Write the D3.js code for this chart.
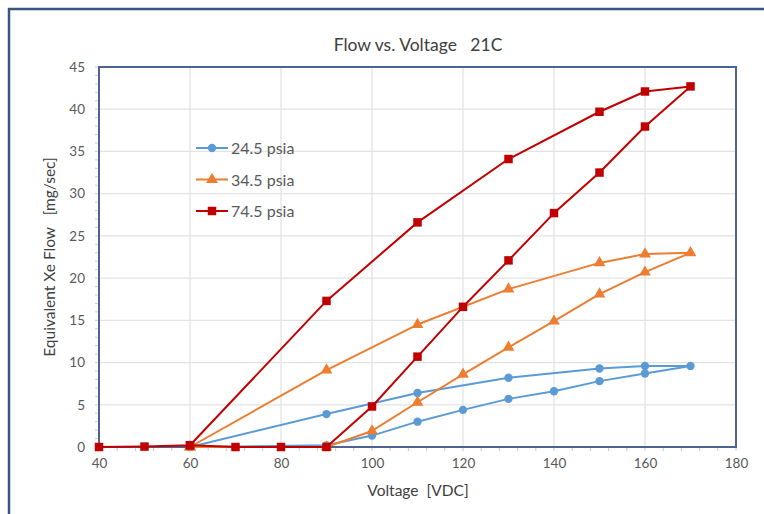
<!DOCTYPE html>
<html>
<head>
<meta charset="utf-8">
<script src="https://cdn.jsdelivr.net/npm/d3@7"></script>
<style>
  body { margin: 0; background: #fff; }
  text { font-family: Lato, "Open Sans", sans-serif; }
</style>
</head>
<body>
<div id="chart"></div>
<script>
const width = 764,
  height = 514;

// tick values
const xTicks = [40, 60, 80, 100, 120, 140, 160, 180];
const yTicks = [0, 5, 10, 15, 20, 25, 30, 35, 40, 45];

// each series follows the test order: up the voltage ramp, then back down
const seriesNames = ["24.5 psia", "34.5 psia", "74.5 psia"];
const voltage245 = [60, 90, 100, 110, 120, 130, 140, 150, 160, 170, 160, 150, 130, 110, 90, 60];
const flow245 = [0, 0.2, 1.35, 3.0, 4.4, 5.7, 6.6, 7.8, 8.7, 9.6, 9.6, 9.3, 8.2, 6.4, 3.9, 0];
const voltage345 = [60, 90, 100, 110, 120, 130, 140, 150, 160, 170, 160, 150, 130, 110, 90, 60];
const flow345 = [0, 0, 1.9, 5.3, 8.6, 11.8, 14.9, 18.1, 20.7, 23.0, 22.85, 21.8, 18.7, 14.5, 9.1, 0];
const voltage745 = [40, 50, 60, 70, 80, 90, 100, 110, 120, 130, 140, 150, 160, 170, 160, 150, 130, 110, 90, 60];
const flow745 = [0, 0.05, 0.2, 0, 0, 0, 4.8, 10.7, 16.6, 22.1, 27.7, 32.5, 37.95, 42.7, 42.1, 39.7, 34.1, 26.6, 17.3, 0.2];

const colors = ["#5B9BD5", "#ED7D31", "#C00000"];
const shapes = [d3.symbolCircle, d3.symbolTriangle, d3.symbolSquare];
const sizes = [55, 60, 72];

const series = [
  { name: seriesNames[0], pts: voltage245.map((v, i) => [v, flow245[i]]) },
  { name: seriesNames[1], pts: voltage345.map((v, i) => [v, flow345[i]]) },
  { name: seriesNames[2], pts: voltage745.map((v, i) => [v, flow745[i]]) }
];

const margin = { top: 67, right: 28, bottom: 67, left: 99 };
const innerW = width - margin.left - margin.right,
  innerH = height - margin.top - margin.bottom;

const svg = d3.select("#chart").append("svg").attr("width", width).attr("height", height);

// outer chart frame (runs off the right and bottom edges)
svg
  .append("rect")
  .attr("x", 9)
  .attr("y", 9)
  .attr("width", width + 20)
  .attr("height", height + 20)
  .attr("fill", "none")
  .attr("stroke", "#3B5483")
  .attr("stroke-width", 2.5);

const x = d3.scaleLinear().domain([40, 180]).range([0, innerW]);
const y = d3.scaleLinear().domain([0, 45]).range([innerH, 0]);

const g = svg.append("g").attr("transform", `translate(${margin.left},${margin.top})`);

// gridlines
g.append("g")
  .selectAll("line")
  .data(xTicks.slice(1, -1))
  .join("line")
  .attr("x1", d => x(d))
  .attr("x2", d => x(d))
  .attr("y1", 0)
  .attr("y2", innerH)
  .attr("stroke", "#E3E3E3")
  .attr("stroke-width", 1.3);

g.append("g")
  .selectAll("line")
  .data(yTicks.slice(1, -1))
  .join("line")
  .attr("x1", 0)
  .attr("x2", innerW)
  .attr("y1", d => y(d))
  .attr("y2", d => y(d))
  .attr("stroke", "#E3E3E3")
  .attr("stroke-width", 1.3);

// minor ticks
g.append("g")
  .selectAll("line")
  .data(d3.range(40, 181, 4))
  .join("line")
  .attr("x1", d => x(d))
  .attr("x2", d => x(d))
  .attr("y1", innerH)
  .attr("y2", innerH + 4)
  .attr("stroke", "#C8C8C8");

g.append("g")
  .selectAll("line")
  .data(d3.range(0, 46, 1))
  .join("line")
  .attr("x1", -4)
  .attr("x2", 0)
  .attr("y1", d => y(d))
  .attr("y2", d => y(d))
  .attr("stroke", "#D0D0D0");

// axes (labels only, the frame draws the lines)
const xAxis = g
  .append("g")
  .attr("transform", `translate(0,${innerH})`)
  .call(d3.axisBottom(x).tickValues(xTicks).tickSize(0).tickPadding(11));
const yAxis = g.append("g").call(d3.axisLeft(y).tickValues(yTicks).tickSize(0).tickPadding(14));
[xAxis, yAxis].forEach(a => {
  a.select(".domain").remove();
  a.selectAll("text").attr("font-size", 13.5).attr("fill", "#595959").attr("font-family", "Lato, sans-serif");
});

// plot area frame
g.append("rect")
  .attr("width", innerW)
  .attr("height", innerH)
  .attr("fill", "none")
  .attr("stroke", "#4D6391")
  .attr("stroke-width", 2);

const line = d3
  .line()
  .x(d => x(d[0]))
  .y(d => y(d[1]));

series.forEach((s, i) => {
  g.append("path")
    .datum(s.pts)
    .attr("d", line)
    .attr("fill", "none")
    .attr("stroke", colors[i])
    .attr("stroke-width", 2)
    .attr("stroke-linejoin", "round");

  g.append("g")
    .selectAll("path")
    .data(s.pts)
    .join("path")
    .attr("transform", d => `translate(${x(d[0])},${y(d[1])})`)
    .attr("d", d3.symbol().type(shapes[i]).size(sizes[i]))
    .attr("fill", colors[i]);
});

// legend
const legend = svg.append("g").attr("transform", "translate(196,148)");
seriesNames.forEach((name, i) => {
  const row = legend.append("g").attr("transform", `translate(0,${i * 31.5})`);
  row.append("line").attr("x1", 0).attr("x2", 32).attr("stroke", colors[i]).attr("stroke-width", 2);
  row.append("path")
    .attr("transform", "translate(16,0)")
    .attr("d", d3.symbol().type(shapes[i]).size(sizes[i]))
    .attr("fill", colors[i]);
  row.append("text")
    .attr("x", 35)
    .attr("y", 6)
    .attr("font-size", 16)
    .attr("fill", "#595959")
    .text(name);
});

// titles
svg
  .append("text")
  .attr("x", 418)
  .attr("y", 51)
  .attr("text-anchor", "middle")
  .attr("font-size", 17.5)
  .attr("fill", "#404040")
  .attr("xml:space", "preserve")
  .text("Flow vs. Voltage   21C");

svg
  .append("text")
  .attr("x", 418)
  .attr("y", 496)
  .attr("text-anchor", "middle")
  .attr("font-size", 15.5)
  .attr("fill", "#404040")
  .attr("xml:space", "preserve")
  .text("Voltage  [VDC]");

svg
  .append("text")
  .attr("transform", "translate(55,257) rotate(-90)")
  .attr("text-anchor", "middle")
  .attr("font-size", 15.5)
  .attr("fill", "#404040")
  .attr("xml:space", "preserve")
  .text("Equivalent Xe Flow   [mg/sec]");
</script>
</body>
</html>
